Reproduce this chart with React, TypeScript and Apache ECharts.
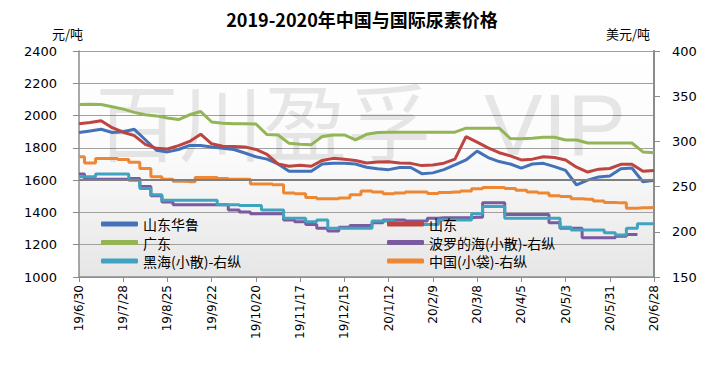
import React, { useEffect, useRef, useState } from "react";
import * as echarts from "echarts";

// Weekly dates 2019-06-30 .. 2020-06-28
const dates = [
  "19/6/30", "19/7/7", "19/7/14", "19/7/21", "19/7/28", "19/8/4", "19/8/11", "19/8/18", "19/8/25",
  "19/9/1", "19/9/8", "19/9/15", "19/9/22", "19/9/29", "19/10/6", "19/10/13", "19/10/20", "19/10/27",
  "19/11/3", "19/11/10", "19/11/17", "19/11/24", "19/12/1", "19/12/8", "19/12/15", "19/12/22", "19/12/29",
  "20/1/5", "20/1/12", "20/1/19", "20/1/26", "20/2/2", "20/2/9", "20/2/16", "20/2/23", "20/3/1",
  "20/3/8", "20/3/15", "20/3/22", "20/3/29", "20/4/5", "20/4/12", "20/4/19", "20/4/26", "20/5/3",
  "20/5/10", "20/5/17", "20/5/24", "20/5/31", "20/6/7", "20/6/14", "20/6/21", "20/6/28",
];
const labelEvery = 4;

// 元/吨 (left axis)
const shandongHualu = [
  1895, 1905, 1915, 1895, 1900, 1915, 1850, 1785, 1775, 1790, 1815, 1815, 1805, 1798, 1790, 1768, 1745,
  1730, 1700, 1655, 1655, 1655, 1700, 1704, 1704, 1700, 1680, 1670, 1665, 1678, 1678, 1640, 1645, 1665,
  1694, 1725, 1780, 1740, 1715, 1700, 1675, 1700, 1704, 1684, 1660, 1570, 1600, 1620, 1625, 1670, 1675,
  1590, 1600,
];
const shandong = [
  1949, 1957, 1968, 1925, 1897, 1876, 1822, 1797, 1793, 1814, 1840, 1885, 1825, 1810, 1808, 1806, 1790,
  1760, 1700, 1686, 1692, 1686, 1722, 1735, 1730, 1722, 1706, 1712, 1714, 1706, 1704, 1690, 1694, 1705,
  1730, 1870, 1835, 1800, 1770, 1750, 1725, 1730, 1745, 1740, 1725, 1680, 1650, 1668, 1672, 1698, 1698,
  1655, 1660,
];
const guangdong = [
  2068, 2070, 2068, 2055, 2040, 2020, 2005, 1998, 1985, 1975, 2005, 2025, 1960, 1952, 1950, 1950, 1948,
  1882, 1880, 1828, 1822, 1820, 1870, 1880, 1880, 1850, 1884, 1895, 1897, 1897, 1897, 1897, 1897, 1897,
  1897, 1922, 1922, 1922, 1922, 1858, 1856, 1860, 1866, 1866, 1849, 1849, 1830, 1830, 1830, 1830, 1830,
  1775, 1770,
];
// 美元/吨 (right axis)
const baltic = [
  264, 258, 258, 258, 258, 259, 250, 240, 233, 230, 230, 230, 230, 230, 224, 222, 220,
  220, 220, 213, 211, 208, 204, 201, 205, 207, 207, 210, 213, 213, 212, 212, 215, 215.5,
  215.5, 215.5, 216, 232, 232, 219, 219, 219, 219, 210, 204, 204, 193.5, 193.5, 193.5, 195, 197,
  null, null,
];
const blackSea = [
  261, 261, 264, 264, 264, 257, 248, 241, 235, 235, 235, 235, 235, 230, 230, 229, 229,
  224, 224, 215, 215, 211, 213, 204, 204, 204, 204, 212, 212, 208, 208, 208, 208, 213,
  213, 213, 220, 228, 228, 215, 215, 215, 215, 215, 205, 202, 202, 202, 199, 196.5, 204,
  209, 209,
];
const chinaBag = [
  283, 276, 281, 281, 280, 277, 270, 261, 258, 256, 255.5, 260, 260, 259, 258, 258, 253,
  253, 252, 243, 242, 238, 236.5, 236.5, 237.5, 241, 245, 244, 242, 243, 244, 244, 242.5, 243.5,
  244, 245, 247.5, 249, 249, 248, 246, 244, 243, 240, 239, 236.5, 236, 234, 232.5, 232, 226,
  226.5, 227,
];

const leftTicks = { min: 1000, max: 2400, interval: 200 };
const rightTicks = { min: 150, max: 400, interval: 50 };

const names = {
  hualu: "山东华鲁",
  sd: "山东",
  gd: "广东",
  baltic: "波罗的海(小散)-右纵",
  black: "黑海(小散)-右纵",
  china: "中国(小袋)-右纵",
};

type Lab = { x: number; y: number; text: string };

export default function App() {
  const ref = useRef<HTMLDivElement>(null);
  const [labels, setLabels] = useState<Lab[]>([]);
  useEffect(() => {
    const chart = echarts.init(ref.current as HTMLDivElement, null, { renderer: "svg" });
    const num = "DejaVu Sans";
    const cjk = '"Noto Sans CJK SC", sans-serif';
    const mk = (name: string, data: any[], color: string, yAxisIndex: number, step?: any, extra?: any) => ({
      name,
      type: "line",
      data,
      yAxisIndex,
      symbol: "none",
      step: step || false,
      lineStyle: { color, width: 3 },
      itemStyle: { color },
      z: 3,
      ...(extra || {}),
    });
    const legendText = { fontSize: 14, color: "#000", fontFamily: cjk, lineHeight: 14 };
    const plain = (v: number) => String(v);
    chart.setOption({
      animation: false,
      title: {
        text: "2019-2020年中国与国际尿素价格",
        left: "center",
        top: 5,
        textStyle: { fontSize: 18, fontWeight: "bold", color: "#000", fontFamily: cjk },
      },
      graphic: {
        elements: [
          { type: "text", x: 52, y: 27, z: 5, style: { text: "元/吨", font: '13px "Noto Sans CJK SC"', fill: "#000" } },
          { type: "text", x: 606, y: 27, z: 5, style: { text: "美元/吨", font: '13px "Noto Sans CJK SC"', fill: "#000" } },
          { type: "text", x: 95, y: 118, z: 1, silent: true, style: { text: "百川盈孚", font: '84px "Noto Sans CJK SC"', fill: "rgba(0,0,0,0.09)", verticalAlign: "middle" } },
          { type: "text", x: 484, y: 124, z: 1, silent: true, style: { text: "VIP", font: '88px "Liberation Sans"', fill: "rgba(0,0,0,0.09)", verticalAlign: "middle" } },
        ],
      },
      legend: [
        {
          data: [names.hualu, names.gd, names.black],
          orient: "vertical",
          left: 101,
          top: 217,
          icon: "roundRect",
          itemWidth: 37,
          itemHeight: 5,
          itemGap: 4.5,
          textStyle: legendText,
          padding: 0,
        },
        {
          data: [names.sd, names.baltic, names.china],
          orient: "vertical",
          left: 387,
          top: 217,
          icon: "roundRect",
          itemWidth: 37,
          itemHeight: 5,
          itemGap: 4.5,
          textStyle: legendText,
          padding: 0,
        },
      ],
      grid: {
        left: 79,
        right: 70,
        top: 51,
        bottom: 93,
        containLabel: false,
        outerBoundsMode: "none",
        show: true,
        borderWidth: 0,
        backgroundColor: new echarts.graphic.LinearGradient(0, 0, 0, 1, [
          { offset: 0, color: "#ffffff" },
          { offset: 0.45, color: "#fbfbfb" },
          { offset: 1, color: "#e6e6e6" },
        ]),
      },
      xAxis: {
        type: "category",
        data: dates,
        boundaryGap: false,
        axisLine: { lineStyle: { color: "#8c8c8c", width: 1.5 } },
        axisTick: { show: true, interval: labelEvery - 1, length: 5, lineStyle: { color: "#8c8c8c" } },
        axisLabel: { show: false },
        splitLine: { show: false },
      },
      yAxis: [
        {
          type: "value",
          ...leftTicks,
          axisLine: { show: true, lineStyle: { color: "#8c8c8c", width: 1.5 } },
          axisTick: { show: true, length: 6, lineStyle: { color: "#8c8c8c" } },
          axisLabel: { fontSize: 13, color: "#000", fontFamily: num, margin: 22, formatter: plain },
          splitLine: { show: true, lineStyle: { color: "#a0a0a0", width: 1 } },
        },
        {
          type: "value",
          position: "right",
          ...rightTicks,
          axisLine: { show: true, lineStyle: { color: "#8c8c8c", width: 2 } },
          axisTick: { show: true, length: 6, lineStyle: { color: "#8c8c8c" } },
          axisLabel: { fontSize: 13, color: "#000", fontFamily: num, margin: 18, formatter: plain },
          splitLine: { show: false },
        },
      ],
      series: [
        mk(names.hualu, shandongHualu, "#4472B8", 0, false, {
          markLine: {
            silent: true,
            symbol: "none",
            label: { show: false },
            lineStyle: { color: "#7f7f7f", width: 2, type: "solid" },
            data: [{ yAxis: 1600 }],
          },
        }),
        mk(names.sd, shandong, "#BE4441", 0),
        mk(names.gd, guangdong, "#93B555", 0),
        mk(names.baltic, baltic, "#7A5AA0", 1, "middle"),
        mk(names.black, blackSea, "#40A4C0", 1, "middle"),
        mk(names.china, chinaBag, "#EE8734", 1, "middle"),
      ],
    });

    // Date labels placed through the chart's own category scale
    const labs: Lab[] = [];
    dates.forEach((d, i) => {
      if (i % labelEvery !== 0) return;
      const p = chart.convertToPixel({ xAxisIndex: 0, yAxisIndex: 0 }, [i, leftTicks.min]) as number[];
      labs.push({ x: p[0], y: p[1] + 8, text: d });
    });
    setLabels(labs);
    return () => chart.dispose();
  }, []);
  return (
    <div style={{ position: "fixed", left: 0, top: 0, width: 724, height: 370, background: "#fff" }}>
      <div ref={ref} style={{ position: "absolute", left: 0, top: 0, width: 724, height: 370 }} />
      {labels.map((l) => (
        <div
          key={l.text}
          style={{
            position: "absolute",
            left: l.x,
            top: l.y,
            transform: "translate(-100%, -50%) rotate(-90deg)",
            transformOrigin: "right center",
            whiteSpace: "nowrap",
            font: '12px "DejaVu Sans"',
            lineHeight: "14px",
            color: "#000",
          }}
        >
          {l.text}
        </div>
      ))}
    </div>
  );
}
